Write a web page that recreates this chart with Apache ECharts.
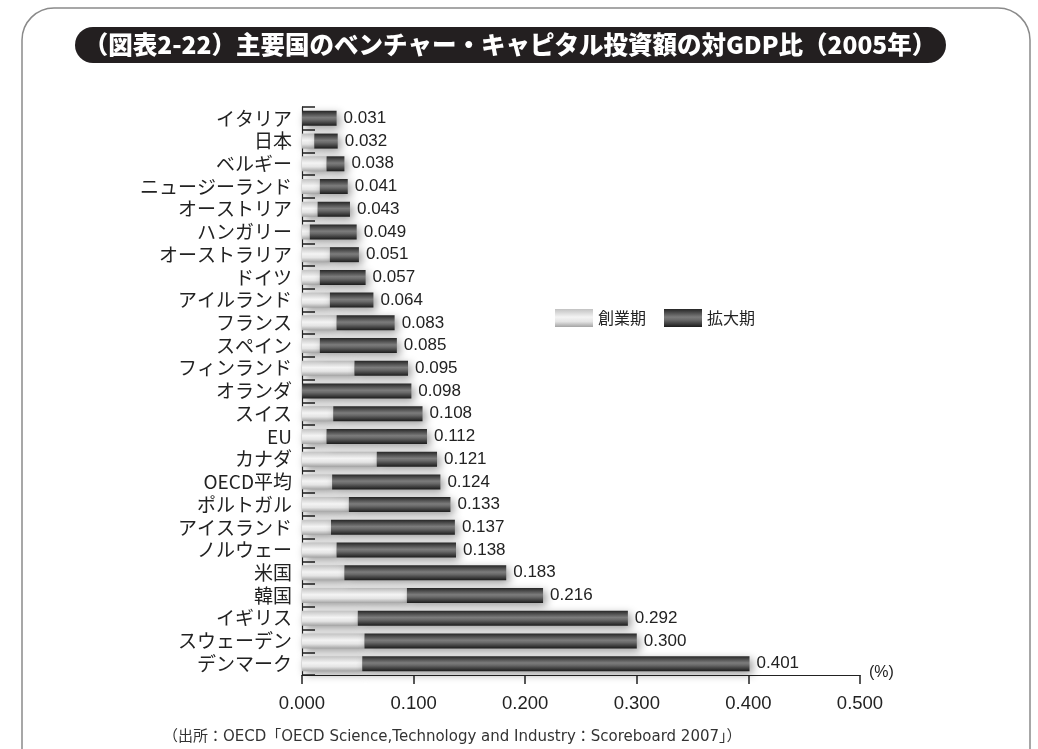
<!DOCTYPE html>
<html>
<head>
<meta charset="utf-8">
<script src="https://cdn.jsdelivr.net/npm/echarts@6/dist/echarts.min.js"></script>
<style>
  html, body { margin: 0; padding: 0; background: #ffffff; }
  #chart { width: 1038px; height: 749px; }
</style>
</head>
<body>
<div id="chart"></div>
<script>
// Countries, top to bottom
const countries = ['イタリア', '日本', 'ベルギー', 'ニュージーランド', 'オーストリア', 'ハンガリー',
  'オーストラリア', 'ドイツ', 'アイルランド', 'フランス', 'スペイン', 'フィンランド', 'オランダ',
  'スイス', 'EU', 'カナダ', 'OECD平均', 'ポルトガル', 'アイスランド', 'ノルウェー', '米国', '韓国',
  'イギリス', 'スウェーデン', 'デンマーク'];

// Venture capital investment as % of GDP (total of both stages)
const totals = [0.031, 0.032, 0.038, 0.041, 0.043, 0.049, 0.051, 0.057, 0.064, 0.083, 0.085, 0.095,
  0.098, 0.108, 0.112, 0.121, 0.124, 0.133, 0.137, 0.138, 0.183, 0.216, 0.292, 0.300, 0.401];

// Early stage (創業期) share
const earlyStage = [0.000, 0.011, 0.022, 0.016, 0.014, 0.007, 0.025, 0.016, 0.025, 0.031, 0.016, 0.047,
  0.000, 0.028, 0.022, 0.067, 0.027, 0.042, 0.026, 0.031, 0.038, 0.094, 0.050, 0.056, 0.054];

// Expansion stage (拡大期) = total minus early stage
const expansion = totals.map((t, i) => +(t - earlyStage[i]).toFixed(3));

const titleText = '（図表2-22）主要国のベンチャー・キャピタル投資額の対GDP比（2005年）';
const sourceText = '（出所：OECD「OECD Science,Technology and Industry：Scoreboard 2007」）';

const jp = '"Noto Sans CJK JP", sans-serif';
const num = '"Liberation Sans", Arial, sans-serif';
const src = '"DejaVu Sans", "Noto Sans CJK JP", sans-serif';

const lightFill = new echarts.graphic.LinearGradient(0, 0, 0, 1, [
  { offset: 0, color: '#c2c2c2' },
  { offset: 0.45, color: '#f4f4f4' },
  { offset: 0.7, color: '#e4e4e4' },
  { offset: 1, color: '#a4a4a4' }
]);
const darkFill = new echarts.graphic.LinearGradient(0, 0, 0, 1, [
  { offset: 0, color: '#262626' },
  { offset: 0.45, color: '#7c7c7c' },
  { offset: 0.6, color: '#6a6a6a' },
  { offset: 1, color: '#1c1c1c' }
]);

const chart = echarts.init(document.getElementById('chart'), null, { renderer: 'canvas' });

chart.setOption({
  backgroundColor: '#ffffff',
  animation: false,
  graphic: [
    {
      type: 'rect', z: 0,
      shape: { x: 22, y: 8, width: 1008, height: 780, r: 32 },
      style: { fill: 'none', stroke: '#8a8a8a', lineWidth: 1.5 }
    },
    {
      type: 'rect', z: 1,
      shape: { x: 75, y: 27, width: 871, height: 36, r: 18 },
      style: { fill: '#231f20' }
    },
    {
      type: 'text', z: 2,
      x: 510, y: 45,
      style: {
        text: titleText, fill: '#ffffff', font: '900 24.5px ' + jp,
        align: 'center', verticalAlign: 'middle'
      }
    },
    {
      type: 'text', z: 2,
      x: 163, y: 737,
      style: {
        text: sourceText, fill: '#333333', font: '15px ' + src,
        align: 'left', verticalAlign: 'middle'
      }
    }
  ],
  legend: {
    left: 550, top: 304, icon: 'rect',
    itemWidth: 38, itemHeight: 18, itemGap: 18,
    textStyle: { fontFamily: jp, fontSize: 16, color: '#222' },
    data: ['創業期', '拡大期']
  },
  grid: { left: 302, right: 178, top: 107, bottom: 74, containLabel: false },
  xAxis: {
    type: 'value', min: 0, max: 0.5, interval: 0.1,
    name: '(%)', nameLocation: 'end', nameGap: 9,
    nameTextStyle: { fontFamily: num, fontSize: 16, color: '#222', verticalAlign: 'bottom', padding: [0, 0, -6, 0] },
    axisLine: { show: true, lineStyle: { color: '#222', width: 1.2 } },
    axisTick: { show: true, length: 9, lineStyle: { color: '#222', width: 1.5 } },
    axisLabel: {
      margin: 19, fontFamily: num, fontSize: 18.5, color: '#222',
      formatter: v => v.toFixed(3)
    },
    splitLine: { show: true, lineStyle: { color: 'rgba(255,255,255,0.35)', width: 1 } }
  },
  yAxis: {
    type: 'category', inverse: true, data: countries,
    axisLine: { show: true, lineStyle: { color: '#222', width: 1.2 } },
    axisTick: { show: true, inside: true, length: 13, lineStyle: { color: '#222', width: 1.5 } },
    axisLabel: { interval: 0, margin: 10, fontFamily: jp, fontSize: 19, color: '#222' }
  },
  series: [
    {
      name: '創業期', type: 'bar', stack: 'vc', barWidth: 15,
      data: earlyStage,
      itemStyle: {
        color: lightFill,
        shadowColor: 'rgba(0,0,0,0.4)', shadowBlur: 8, shadowOffsetX: 3, shadowOffsetY: 3
      }
    },
    {
      name: '拡大期', type: 'bar', stack: 'vc', barWidth: 15,
      data: expansion,
      itemStyle: {
        color: darkFill,
        shadowColor: 'rgba(0,0,0,0.4)', shadowBlur: 8, shadowOffsetX: 3, shadowOffsetY: 3
      },
      label: {
        show: true, position: 'right', distance: 7,
        fontFamily: num, fontSize: 17, color: '#222',
        formatter: p => totals[p.dataIndex].toFixed(3)
      }
    }
  ]
});
</script>
</body>
</html>
